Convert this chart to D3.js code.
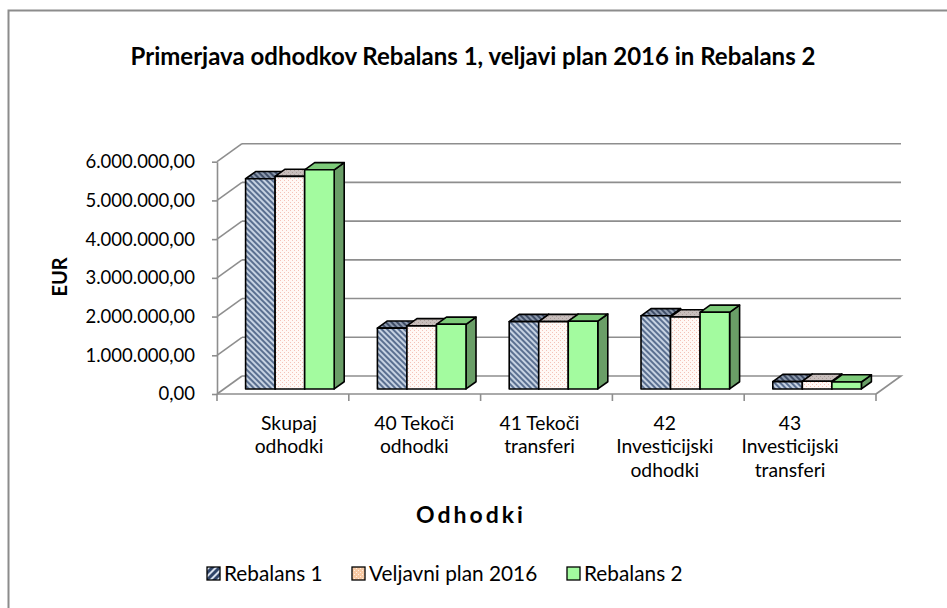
<!DOCTYPE html>
<html>
<head>
<meta charset="utf-8">
<script src="https://cdn.jsdelivr.net/npm/d3@7"></script>
<style>
  body { margin: 0; background: #fff; }
  svg { display: block; font-family: Lato, "Liberation Sans", sans-serif; }
</style>
</head>
<body>
<svg id="chart" width="947" height="608"></svg>
<script>
// data
const categories = ["Skupaj odhodki", "40 Tekoči odhodki", "41 Tekoči transferi", "42 Investicijski odhodki", "43 Investicijski transferi"]
const categoryLines = [["Skupaj", "odhodki"], ["40 Tekoči", "odhodki"], ["41 Tekoči", "transferi"], ["42", "Investicijski", "odhodki"], ["43", "Investicijski", "transferi"]]
const series = ["Rebalans 1", "Veljavni plan 2016", "Rebalans 2"]
const rebalans1 = [5430000, 1570000, 1740000, 1890000, 190000]
const veljavniPlan = [5490000, 1630000, 1740000, 1860000, 200000]
const rebalans2 = [5660000, 1670000, 1750000, 1980000, 180000]
const yTicks = [0, 1000000, 2000000, 3000000, 4000000, 5000000, 6000000]

const values = [rebalans1, veljavniPlan, rebalans2]

// 3d geometry
const FRONT = {left: 217, right: 876, bottom: 394, top: 161.7}
const DX = 25, DY = 18        // full depth of the floor
const BAR_F0 = 0.28, BAR_F1 = 0.68   // bar depth, fraction of floor

const svg = d3.select('#chart')
const defs = svg.append('defs')

// hatch for Rebalans 1
function hatch(id, bg, fg) {
    let p = defs.append('pattern')
        .attr('id', id)
        .attr('patternUnits', 'userSpaceOnUse')
        .attr('width', 4).attr('height', 4)
        .attr('patternTransform', 'rotate(-45)')
    p.append('rect').attr('width', 4).attr('height', 4).attr('fill', bg)
    p.append('rect').attr('width', 2).attr('height', 4).attr('fill', fg)
}
hatch('h1', '#c6d2e2', '#5a6f90')
hatch('h1top', '#8d9aae', '#3f4d66')
// legend swatch has the stripes the other way
let lp = defs.append('pattern')
    .attr('id', 'h1leg')
    .attr('patternUnits', 'userSpaceOnUse')
    .attr('width', 5).attr('height', 5)
    .attr('patternTransform', 'rotate(45)')
lp.append('rect').attr('width', 5).attr('height', 5).attr('fill', '#d8e0ec')
lp.append('rect').attr('width', 3).attr('height', 5).attr('fill', '#2f4468')

function dots(id, bg, fg) {
    let p = defs.append('pattern')
        .attr('id', id)
        .attr('patternUnits', 'userSpaceOnUse')
        .attr('width', 4).attr('height', 4)
    p.append('rect').attr('width', 4).attr('height', 4).attr('fill', bg)
    p.append('rect').attr('x', 0).attr('y', 0).attr('width', 1).attr('height', 1).attr('fill', fg)
    p.append('rect').attr('x', 2).attr('y', 2).attr('width', 1).attr('height', 1).attr('fill', fg)
}
dots('d2', '#fff8f5', '#f4c2b8')
dots('d2top', '#c8bebc', '#a99c98')
dots('d2leg', '#f7c9a4', '#fff0e4')

const fills = [
    {front: 'url(#h1)', top: 'url(#h1top)', side: 'url(#h1top)'},
    {front: 'url(#d2)', top: 'url(#d2top)', side: 'url(#d2top)'},
    {front: '#a3fb9f', top: '#7dca79', side: '#6a9e67'}
]
const legendFills = ['url(#h1leg)', 'url(#d2leg)', '#a3fb9f']

// outer frame
svg.append('rect')
    .attr('x', 8.5).attr('y', 10.5)
    .attr('width', 1000).attr('height', 1000)
    .attr('fill', 'none')
    .attr('stroke', '#8c8c8c')
    .attr('stroke-width', 2)

let y = d3.scaleLinear()
    .domain([0, 6000000])
    .range([FRONT.bottom, FRONT.top])

let x0 = d3.scaleBand()
    .domain(categories)
    .range([FRONT.left, FRONT.right])

let x1 = d3.scaleBand()
    .domain(series)
    .range([21.6, x0.bandwidth() - 21.6])

let fmt = d3.formatLocale({decimal: ',', thousands: '.', grouping: [3], currency: ['', '']}).format(',.2f')

const GRID = '#8e8e8e'

// back wall gridlines and side wall
let grid = svg.append('g')
grid.selectAll('.gl')
    .data(yTicks.filter(d => d > 0))
    .enter().append('line')
    .attr('x1', FRONT.left + DX).attr('x2', FRONT.right + DX)
    .attr('y1', d => y(d) - DY).attr('y2', d => y(d) - DY)
    .attr('stroke', GRID).attr('stroke-width', 1.6)
grid.selectAll('.sl')
    .data(yTicks)
    .enter().append('line')
    .attr('x1', FRONT.left).attr('x2', FRONT.left + DX)
    .attr('y1', d => y(d)).attr('y2', d => y(d) - DY)
    .attr('stroke', GRID).attr('stroke-width', 1.6)
// floor
grid.append('path')
    .attr('d', `M${FRONT.left + DX},${y(0) - DY}H${FRONT.right + DX}L${FRONT.right},${y(0)}`)
    .attr('fill', 'none').attr('stroke', GRID).attr('stroke-width', 1.6)

// value axis
let yAxis = svg.append('g')
    .attr('transform', `translate(${FRONT.left},0)`)
    .call(d3.axisLeft(y).tickValues(yTicks).tickFormat(fmt).tickSizeInner(5).tickSizeOuter(0).tickPadding(17))
yAxis.select('.domain').attr('stroke', GRID).attr('stroke-width', 1.6)
yAxis.selectAll('.tick line').attr('stroke', GRID).attr('stroke-width', 1.6)
yAxis.selectAll('.tick text')
    .attr('fill', '#000')
    .style('font-size', '18.5px')
    .style('font-family', 'Lato')

// category axis
let xAxisG = svg.append('g')
xAxisG.append('line')
    .attr('x1', FRONT.left).attr('x2', FRONT.right)
    .attr('y1', y(0)).attr('y2', y(0))
    .attr('stroke', GRID).attr('stroke-width', 1.6)
xAxisG.selectAll('.ct')
    .data(categories.concat(['end']))
    .enter().append('line')
    .attr('x1', d => d === 'end' ? FRONT.right : x0(d))
    .attr('x2', d => d === 'end' ? FRONT.right : x0(d))
    .attr('y1', y(0)).attr('y2', y(0) + 7)
    .attr('stroke', GRID).attr('stroke-width', 1.6)

// label positions (Excel shifts them a little toward the left)
let labelX = d3.scalePoint()
    .domain(categories)
    .range([289, 790])

categories.forEach((c, i) => {
    let t = svg.append('text')
        .attr('x', labelX(c))
        .attr('y', 430)
        .attr('text-anchor', 'middle')
        .style('font-size', '19.3px')
    categoryLines[i].forEach((ln, j) => {
        t.append('tspan')
            .attr('x', labelX(c))
            .attr('dy', j === 0 ? 0 : 23.3)
            .text(ln)
    })
})

// bars, left to right so that later ones cover side faces
let bars = svg.append('g')
const dxa = BAR_F0 * DX, dya = BAR_F0 * DY
const ddx = (BAR_F1 - BAR_F0) * DX, ddy = (BAR_F1 - BAR_F0) * DY
categories.forEach((c, i) => {
    series.forEach((s, k) => {
        let v = values[k][i]
        let xl = x0(c) + x1(s) + dxa
        let xr = xl + x1.bandwidth()
        let yt = y(v) - dya
        let yb = y(0) - dya
        let g = bars.append('g')
            .attr('stroke', '#000').attr('stroke-width', 1.6).attr('stroke-linejoin', 'round')
        // side
        g.append('path')
            .attr('d', `M${xr},${yt}L${xr + ddx},${yt - ddy}L${xr + ddx},${yb - ddy}L${xr},${yb}Z`)
            .attr('fill', fills[k].side)
        // top
        g.append('path')
            .attr('d', `M${xl},${yt}L${xl + ddx},${yt - ddy}L${xr + ddx},${yt - ddy}L${xr},${yt}Z`)
            .attr('fill', fills[k].top)
        // front
        g.append('rect')
            .attr('x', xl).attr('y', yt)
            .attr('width', x1.bandwidth()).attr('height', yb - yt)
            .attr('fill', fills[k].front)
    })
})

// titles
svg.append('text')
    .attr('x', 473).attr('y', 65)
    .attr('text-anchor', 'middle')
    .style('font-weight', 'bold')
    .style('font-size', '24px')
    .text('Primerjava odhodkov Rebalans 1, veljavi plan 2016 in Rebalans 2')

svg.append('text')
    .attr('transform', 'translate(67,277) rotate(-90)')
    .attr('text-anchor', 'middle')
    .style('font-weight', 'bold')
    .style('font-size', '20px')
    .text('EUR')

svg.append('text')
    .attr('x', 471).attr('y', 523)
    .attr('text-anchor', 'middle')
    .style('font-weight', 'bold')
    .style('font-size', '23px')
    .style('letter-spacing', '3px')
    .text('Odhodki')

// legend
let legendX = [207, 352, 567]
let legend = svg.append('g')
series.forEach((s, k) => {
    legend.append('rect')
        .attr('x', legendX[k]).attr('y', 567)
        .attr('width', 13).attr('height', 13)
        .attr('fill', legendFills[k])
        .attr('stroke', '#000').attr('stroke-width', 1.3)
    legend.append('text')
        .attr('x', legendX[k] + 17).attr('y', 581)
        .style('font-size', '20.8px')
        .text(s)
})
</script>
</body>
</html>
